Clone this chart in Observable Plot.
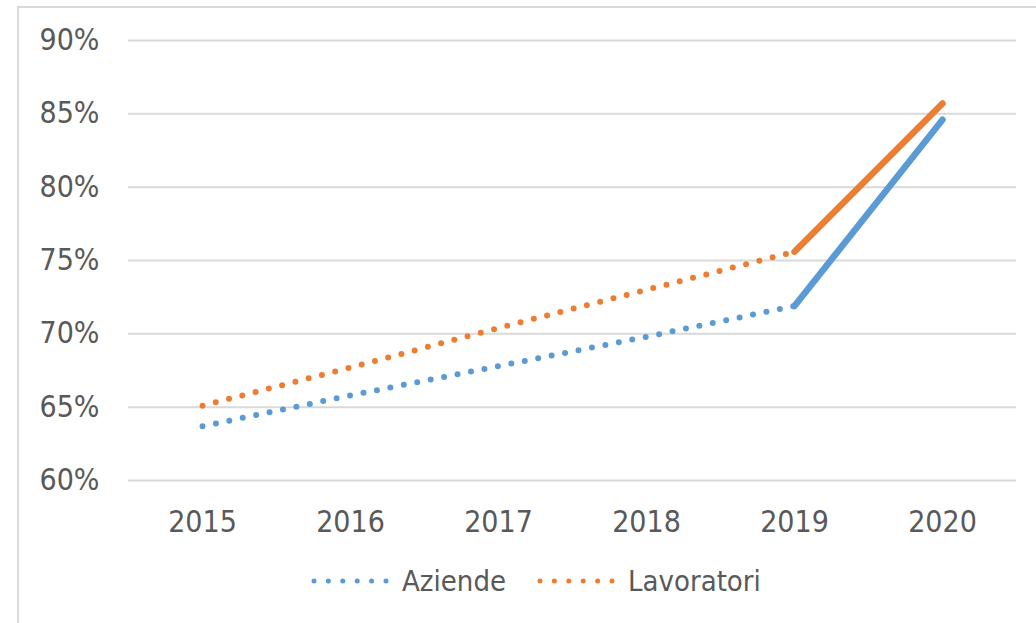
<!DOCTYPE html>
<html>
<head>
<meta charset="utf-8">
<script src="https://cdn.jsdelivr.net/npm/d3@7"></script>
<script src="https://cdn.jsdelivr.net/npm/@observablehq/plot@0.6"></script>
<style>
  html, body { margin: 0; padding: 0; background: #fff; }
  body { width: 1036px; height: 623px; position: relative; overflow: hidden; font-family: "DejaVu Sans Condensed", "DejaVu Sans", sans-serif; }
  #frame { position: absolute; left: 17px; top: 6px; width: 1040px; height: 640px; border-left: 2px solid #d9d9d9; border-top: 2px solid #d9d9d9; box-sizing: border-box; }
  #chart { position: absolute; left: 0; top: 0; }
  #legend { position: absolute; left: 310px; top: 564px; display: flex; align-items: center; color: #595959; font-size: 29px; }
  #legend .item { display: flex; align-items: center; margin-right: 30px; }
  #legend svg { margin-right: 12px; }
</style>
</head>
<body>
<div id="frame"></div>
<div id="chart"></div>
<div id="legend"></div>
<script>
const years = ["2015", "2016", "2017", "2018", "2019", "2020"];
const aziende = [0.637, 0.658, 0.678, 0.698, 0.719, 0.846];
const lavoratori = [0.651, 0.677, 0.704, 0.730, 0.756, 0.857];
const seriesNames = ["Aziende", "Lavoratori"];
const seriesColors = ["#5B9BD5", "#ED7D31"];
const yTicks = [0.60, 0.65, 0.70, 0.75, 0.80, 0.85, 0.90];

const rows = [];
years.forEach((y, i) => {
  rows.push({year: y, i, series: "Aziende", value: aziende[i]});
  rows.push({year: y, i, series: "Lavoratori", value: lavoratori[i]});
});
const dotted = rows.filter(d => d.i <= 4);
const solid = rows.filter(d => d.i >= 4);

const plot = Plot.plot({
  width: 1036,
  height: 545,
  marginLeft: 128,
  marginRight: 20,
  marginTop: 40,
  marginBottom: 65,
  style: {fontFamily: "'DejaVu Sans Condensed', 'DejaVu Sans', sans-serif", fontSize: "30px", color: "#595959", background: "transparent", overflow: "visible"},
  x: {type: "point", domain: years, padding: 0.5, label: null, tickSize: 0, tickPadding: 30},
  y: {domain: [0.6, 0.9], ticks: yTicks, tickFormat: d3.format(".0%"), label: null, tickSize: 0, tickPadding: 29},
  color: {domain: seriesNames, range: seriesColors},
  marks: [
    Plot.gridY(yTicks, {stroke: "#d9d9d9", strokeOpacity: 1, strokeWidth: 2}),
    Plot.line(dotted, {x: "year", y: "value", z: "series", stroke: "series", strokeWidth: 6, strokeDasharray: "0 13.7", strokeLinecap: "round"}),
    Plot.line(solid, {x: "year", y: "value", z: "series", stroke: "series", strokeWidth: 6.5, strokeLinecap: "round"}),
    Plot.axisX({tickSize: 0, tickPadding: 30, fill: "#595959", fontSize: 30}),
    Plot.axisY({ticks: yTicks, tickFormat: d3.format(".0%"), tickSize: 0, tickPadding: 29, fill: "#595959", fontSize: 30})
  ]
});
document.getElementById("chart").appendChild(plot);

const legend = document.getElementById("legend");
seriesNames.forEach((name, k) => {
  const item = document.createElement("div");
  item.className = "item";
  item.innerHTML = `<svg width="80" height="10"><line x1="4" y1="5" x2="76" y2="5" stroke="${seriesColors[k]}" stroke-width="5" stroke-linecap="round" stroke-dasharray="0 14.4"/></svg><span>${name}</span>`;
  legend.appendChild(item);
});
</script>
</body>
</html>
